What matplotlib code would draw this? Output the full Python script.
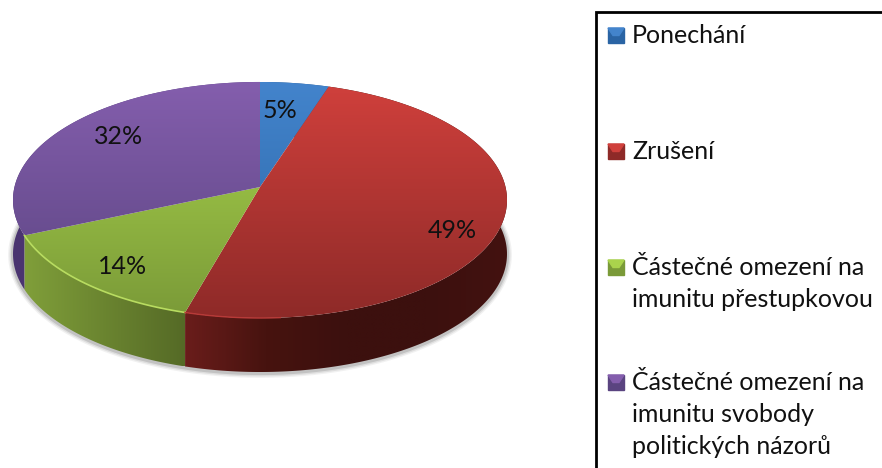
import numpy as np
import matplotlib
matplotlib.use("Agg")
import matplotlib.pyplot as plt
from matplotlib.colors import to_rgb
from matplotlib.patches import Polygon, Rectangle

plt.rcParams["font.family"] = ["Lato", "DejaVu Sans"]

categories = ["Ponechání", "Zrušení",
              "Částečné omezení na\nimunitu přestupkovou",
              "Částečné omezení na\nimunitu svobody\npolitických názorů"]
values = [5.0, 49.4, 14.1, 31.5]
pct_labels = ["5%", "49%", "14%", "32%"]

# colours: top face (upper, lower), then side wall from left to right
top_colors = [("#4384cc", "#2a64a4"), ("#d0403c", "#8e2a28"),
              ("#aad44c", "#7a9a38"), ("#845ead", "#5a4480")]
side_colors = [["#2a5a90", "#2a5a90"], ["#6a1d1b", "#47130f", "#3c100e", "#3c100e", "#431210"],
               ["#809f3a", "#556a26"], ["#4a3470", "#5a4585"]]
label_xy = [(280, 111), (452, 230), (123, 267), (119, 136)]
legend_y = [43, 159, 275, 390]

# pie geometry in pixels, the disc is tilted so the far half looks smaller
cx, cy = 260, 187
rx, ry, k = 245.5, 116.6, 0.11
depth = 54


def project(theta):
    u, w = np.sin(theta), -np.cos(theta)
    d = 1 - k * w
    return cx + rx * u / d, cy + ry * w / d


def gradient_fill(ax, verts, stops, vertical=True, extent=None):
    verts = np.asarray(verts)
    t = np.linspace(0, 1, 256)
    pos = np.linspace(0, 1, len(stops))
    cols = np.array([to_rgb(c) for c in stops])
    rgb = np.stack([np.interp(t, pos, cols[:, n]) for n in range(3)], axis=1)
    arr = rgb[:, None, :] if vertical else rgb[None, :, :]
    if extent is None:
        extent = (verts[:, 0].min(), verts[:, 0].max(), verts[:, 1].max(), verts[:, 1].min())
    im = ax.imshow(arr, extent=extent, aspect="auto", interpolation="bilinear", zorder=2)
    im.set_clip_path(Polygon(verts, transform=ax.transData))


fig = plt.figure(figsize=(8.82, 4.68), dpi=100)
ax = fig.add_axes([0, 0, 1, 1])

fracs = np.cumsum([0] + values) / sum(values)
angles = fracs * 2 * np.pi

# soft shadow along the lower rim
a = np.linspace(np.radians(70), np.radians(290), 300)
sx, sy = project(a)
for lw, alpha in [(7, 0.08), (5, 0.12), (3, 0.2)]:
    ax.plot(sx, sy + depth + 1, color="#555555", lw=lw, alpha=alpha, zorder=1)

# side walls first, the top faces cover whatever is at the back
for i in range(len(values)):
    a = np.linspace(angles[i], angles[i + 1], 200)
    x, y = project(a)
    verts = np.r_[np.c_[x, y], np.c_[x, y + depth][::-1]]
    gradient_fill(ax, verts, side_colors[i], vertical=False)

for i in range(len(values)):
    a = np.linspace(angles[i], angles[i + 1], 200)
    x, y = project(a)
    verts = np.r_[[[cx, cy]], np.c_[x, y]]
    gradient_fill(ax, verts, top_colors[i], extent=(0, 520, 318, 82))

# light edge on the front rim
a = np.linspace(angles[2], angles[3], 100)
ax.plot(*project(a), color="#b8dc60", lw=1.2, zorder=3)
a = np.linspace(angles[2] - 0.35, angles[2], 50)
ax.plot(*project(a), color="#b83a38", lw=1.0, zorder=3)

for txt, (lx, ly) in zip(pct_labels, label_xy):
    ax.text(lx, ly, txt, fontsize=18, color="#111111", ha="center", va="center", zorder=4)

# legend box runs off the right and bottom of the picture
ax.add_patch(Rectangle((595.5, 12), 320, 500, facecolor="white", edgecolor="black", lw=2, zorder=2))
for i, (name, y0) in enumerate(zip(categories, legend_y)):
    x0, x1 = 608, 624
    top = y0 - 15
    xm, ym = (x0 + x1) / 2, (top + y0) / 2
    c0, c1 = top_colors[i]
    ax.add_patch(Rectangle((x0, top), x1 - x0, y0 - top, color=c1, zorder=3))
    ax.add_patch(Polygon([(x0, top), (x1, top), (xm + 3, ym), (xm - 3, ym)], color=c0, zorder=4))
    for j, line in enumerate(name.split("\n")):
        ax.text(632, y0 + j * 32, line, fontsize=18, color="#111111", ha="left",
                va="baseline", zorder=4)

ax.set_xlim(0, 882)
ax.set_ylim(468, 0)
ax.axis("off")
fig.savefig("out.png", dpi=100)
